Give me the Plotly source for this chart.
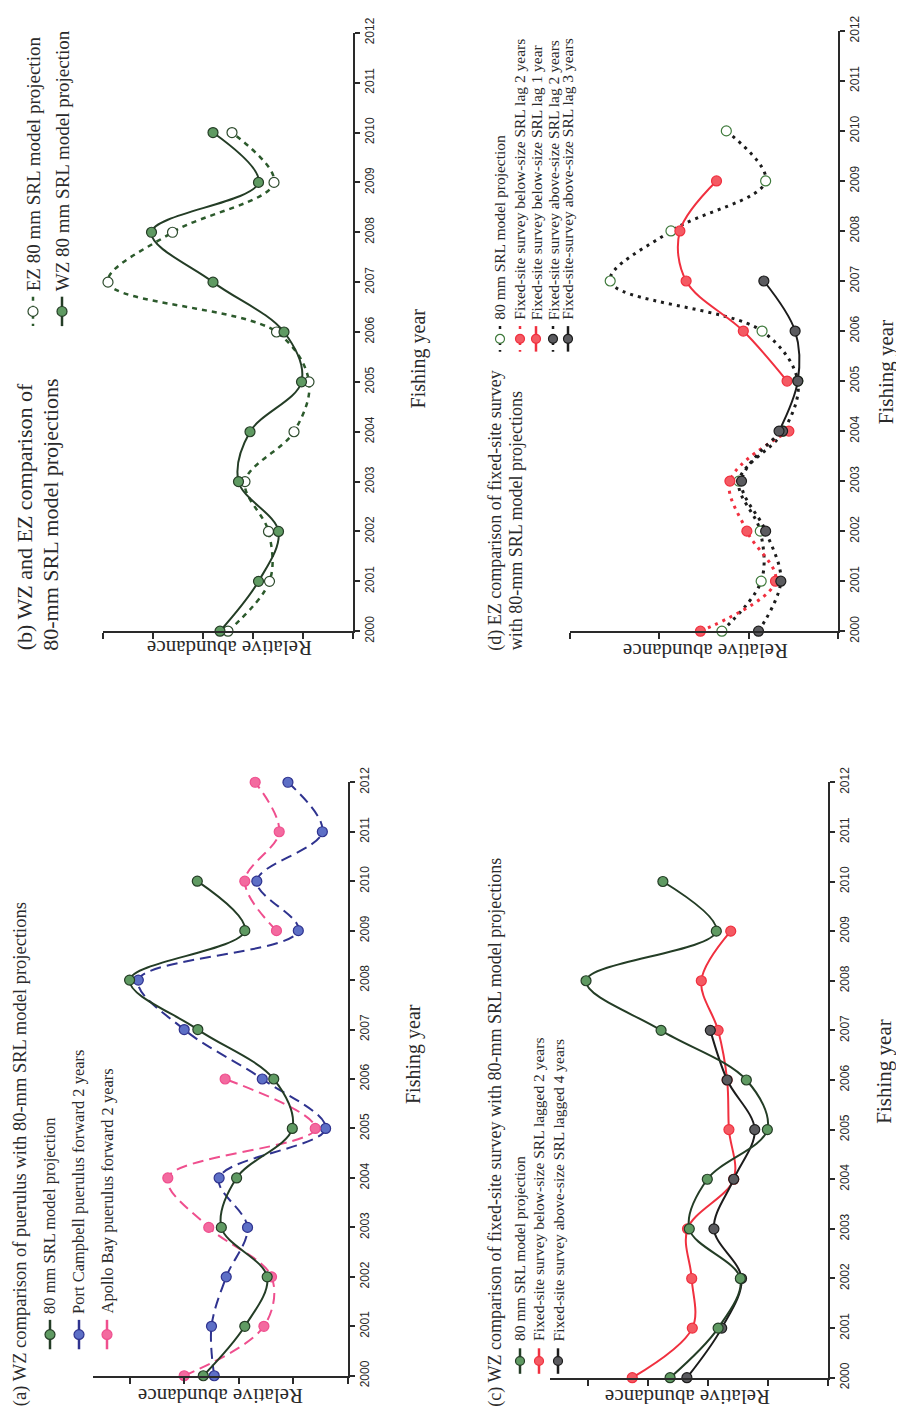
import plotly.graph_objects as go

# page is offset by the default 8px body margin; work in page pixels
PAGE_W, PAGE_H = 904, 1427
OFF = 8
FW, FH = PAGE_W - OFF, PAGE_H - OFF

years = list(range(2000, 2013))
year_labels = [str(y) for y in years]

# ---------------- data (relative abundance, axis-tick units) ----------------
# (a) WZ puerulus vs 80-mm SRL model
a_years_srl = list(range(2000, 2011))
a_srl = [2.65, 1.89, 1.48, 2.32, 2.04, 1.02, 1.36, 2.75, 4.00, 1.89, 2.76]
a_years_pc = list(range(2000, 2013))
a_port_campbell = [2.45, 2.50, 2.23, 1.84, 2.36, 0.41, 1.57, 3.00, 3.84, 0.91, 1.67, 0.47, 1.10]
a_apollo_bay = [3.00, 1.54, 1.40, 2.55, 3.30, 0.60, 2.25, None, None, 1.31, 1.89, 1.26, 1.70]

# (b) WZ and EZ 80-mm SRL projections
b_years = list(range(2000, 2011))
b_ez = [2.50, 1.67, 1.69, 2.16, 1.18, 0.88, 1.53, 4.90, 3.61, 1.58, 2.42]
b_wz = [2.66, 1.89, 1.49, 2.29, 2.06, 1.03, 1.38, 2.80, 4.03, 1.89, 2.80]

# (c) WZ fixed-site survey vs 80-mm SRL
c_years_srl = list(range(2000, 2011))
c_srl = [2.63, 1.83, 1.46, 2.31, 2.01, 1.01, 1.36, 2.78, 4.03, 1.86, 2.75]
c_years_below = list(range(2000, 2010))
c_below_lag2 = [3.26, 2.26, 2.27, 2.34, 1.57, 1.65, 1.68, 1.83, 2.11, 1.62]
c_years_above = list(range(2000, 2008))
c_above_lag4 = [2.35, 1.77, 1.44, 1.90, 1.57, 1.22, 1.68, 1.96]

# (d) EZ fixed-site survey vs 80-mm SRL
d_years_srl = list(range(2000, 2011))
d_srl = [1.30, 0.86, 0.87, 1.11, 0.61, 0.45, 0.85, 2.55, 1.87, 0.81, 1.25]
d_years_lag2 = list(range(2000, 2005))
d_below_lag2 = [1.54, 0.70, 1.02, 1.21, 0.55]
d_years_below_lag1 = list(range(2005, 2010))
d_below_lag1 = [0.57, 1.06, 1.70, 1.77, 1.36]
d_above_lag2 = [0.89, 0.64, 0.81, 1.08, 0.62]
d_years_above_lag3 = list(range(2004, 2008))
d_above_lag3 = [0.66, 0.45, 0.48, 0.83]

# ---------------- styles ----------------
GREEN_M = "#5f9a62"
GREEN_L = "#243d26"
BLUE_M = "#5d6fc6"
BLUE_L = "#2f338f"
PINK = "#ef4f8e"
PINK_M = "#f36a9f"
RED = "#f0303f"
RED_M = "#f45a63"
GREY_M = "#5b5b5f"
BLACK = "#1c1c1c"
EZ_EDGE = "#3f7a3c"

SERIF = "Liberation Serif, DejaVu Serif, serif"
NARROW = "Liberation Sans Narrow, Liberation Sans, Arial, sans-serif"
TXT = "#2a2a2a"


def px(x):
    return (x - OFF) / FW


def py(y):
    return 1 - (y - OFF) / FH

# panel geometry (page pixels): x-domain (left,right), y-domain (top,bottom)
panels = [
    dict(xd=(93, 348), yd=(782, 1387), xr=4.67, nt=4),   # a
    dict(xd=(103, 353), yd=(18, 628), xr=5.0, nt=5),     # b
    dict(xd=(550, 828), yd=(782, 1389), xr=4.63, nt=4),  # c
    dict(xd=(570, 838), yd=(16, 628), xr=3.0, nt=3),     # d
]

fig = go.Figure()
layout = dict(width=FW, height=FH, margin=dict(l=0, r=0, t=0, b=0, pad=0),
              paper_bgcolor="white", plot_bgcolor="white", showlegend=False,
              shapes=[], annotations=[])

for i, p in enumerate(panels):
    n = "" if i == 0 else str(i + 1)
    layout["xaxis" + n] = dict(
        domain=[px(p["xd"][0]), px(p["xd"][1])], range=[p["xr"], 0],
        anchor="y" + n, showline=True, linecolor="#2a2a2a", linewidth=2,
        ticks="outside", ticklen=6, tickwidth=2, tickcolor="#2a2a2a",
        tickvals=list(range(0, p["nt"] + 1)), showticklabels=False,
        showgrid=False, zeroline=False)
    layout["yaxis" + n] = dict(
        domain=[py(p["yd"][1]), py(p["yd"][0])], range=[2000, 2012],
        anchor="x" + n, side="right", showline=True, linecolor="#2a2a2a",
        linewidth=2, ticks="outside", ticklen=5, tickwidth=1.5,
        tickcolor="#2a2a2a", tickvals=years, ticktext=year_labels,
        tickangle=-90, tickfont=dict(family=NARROW, size=12, color=TXT),
        showgrid=False, zeroline=False)


def add(i, x, y, lc, mc, dash="solid", width=2, mline=None, msize=10):
    n = "" if i == 0 else str(i + 1)
    fig.add_trace(go.Scatter(
        x=x, y=y, xaxis="x" + n, yaxis="y" + n, mode="lines+markers",
        line=dict(color=lc, width=width, dash=dash, shape="spline", smoothing=1),
        marker=dict(size=msize, color=mc,
                    line=dict(color=mline or lc, width=1.2)),
        cliponaxis=False, connectgaps=False))

# (a)
add(0, a_port_campbell, a_years_pc, BLUE_L, BLUE_M, dash="11px,6px")
add(0, a_apollo_bay, a_years_pc, PINK, PINK_M, dash="11px,6px")
add(0, a_srl, a_years_srl, GREEN_L, GREEN_M)
# (b)
add(1, b_ez, b_years, "#2c5a2c", "white", dash="5px,5px", width=2.5, mline="#2c4a2c")
add(1, b_wz, b_years, GREEN_L, GREEN_M)
# (c)
add(2, c_below_lag2, c_years_below, RED, RED_M)
add(2, c_above_lag4, c_years_above, BLACK, GREY_M)
add(2, c_srl, c_years_srl, GREEN_L, GREEN_M)
# (d)
add(3, d_srl, d_years_srl, BLACK, "white", dash="3px,5px", width=3, mline=EZ_EDGE)
add(3, d_below_lag2, d_years_lag2, RED, RED_M, dash="3px,5px", width=3)
add(3, d_above_lag2, d_years_lag2, BLACK, GREY_M, dash="3px,5px", width=3)
add(3, d_below_lag1, d_years_below_lag1, RED, RED_M)
add(3, d_above_lag3, d_years_above_lag3, BLACK, GREY_M)


def text(x, y, s, size, angle=-90, xa="center", ya="bottom", family=SERIF):
    layout["annotations"].append(dict(
        x=px(x), y=py(y), xref="paper", yref="paper", text=s, showarrow=False,
        textangle=angle, xanchor=xa, yanchor=ya,
        font=dict(family=family, size=size, color=TXT)))


def legend_sym(cx, cy, lc, mc, edge, dash="solid", half=15, width=2.5, r=5):
    layout["shapes"].append(dict(
        type="line", xref="paper", yref="paper", x0=px(cx), x1=px(cx),
        y0=py(cy - half), y1=py(cy + half),
        line=dict(color=lc, width=width, dash=dash)))
    layout["shapes"].append(dict(
        type="circle", xref="paper", yref="paper",
        x0=px(cx - r), x1=px(cx + r), y0=py(cy + r), y1=py(cy - r),
        fillcolor=mc, line=dict(color=edge, width=1.2)))

# ---- panel (a) texts ----
text(20, 1420, "(a) WZ comparison of puerulus with 80-mm SRL model projections", 18.5)
for cx, lab, lc, mc in [
        (50, "80 mm SRL model projection", GREEN_L, GREEN_M),
        (79, "Port Campbell puerulus forward 2 years", BLUE_L, BLUE_M),
        (107, "Apollo Bay puerulus forward 2 years", PINK, PINK_M)]:
    legend_sym(cx, 1345, lc, mc, lc)
    text(cx, 1326, lab, 16.5)
text(221, 1407, "Relative abundance", 21, angle=180, ya="middle")
text(413, 1059, "Fishing year", 20, ya="middle")

# ---- panel (b) texts ----
text(24, 650, "(b) WZ and EZ comparison of", 22)
text(51, 650, "80-mm SRL model projections", 22)
legend_sym(33, 302, "#2c5a2c", "white", "#2c4a2c", "4px,5px")
text(33, 284, "EZ 80 mm SRL model projection", 19)
legend_sym(62, 302, GREEN_L, GREEN_M, GREEN_L)
text(62, 284, "WZ 80 mm SRL model projection", 19)
text(230, 645, "Relative abundance", 21, angle=180, ya="middle")
text(418, 350, "Fishing year", 20, ya="middle")

# ---- panel (c) texts ----
text(496, 1420, "(c) WZ comparison of fixed-site survey with 80-mm SRL model projections", 18)
for cx, lab, lc, mc in [
        (520, "80 mm SRL model projection", GREEN_L, GREEN_M),
        (539, "Fixed-site survey below-size SRL lagged 2 years", RED, RED_M),
        (558, "Fixed-site survey above-size SRL lagged 4 years", BLACK, GREY_M)]:
    legend_sym(cx, 1372, lc, mc, lc, half=13, r=4.5)
    text(cx, 1354, lab, 15.5)
text(688, 1408, "Relative abundance", 21, angle=180, ya="middle")
text(884, 1077, "Fishing year", 21, ya="middle")

# ---- panel (d) texts ----
text(496, 650, "(d) EZ comparison of fixed-site survey", 18)
text(516, 650, "with 80-mm SRL model projections", 18)
for cx, lab, lc, mc, edge, d in [
        (500, "80 mm SRL model projection", BLACK, "white", EZ_EDGE, "3px,5px"),
        (520, "Fixed-site survey below-size SRL lag 2 years", RED, RED_M, RED, "3px,5px"),
        (536, "Fixed-site survey below-size SRL lag 1 year", RED, RED_M, RED, "solid"),
        (553, "Fixed-site survey above-size SRL lag 2 years", BLACK, GREY_M, BLACK, "3px,5px"),
        (568, "Fixed-site-survey above-size SRL lag 3 years", BLACK, GREY_M, BLACK, "solid")]:
    legend_sym(cx, 330, lc, mc, edge, d, half=13, r=4.5)
    text(cx, 313, lab, 15.5)
text(706, 648, "Relative abundance", 21, angle=180, ya="middle")
text(886, 364, "Fishing year", 21, ya="middle")

fig.update_layout(**layout)
fig.write_html("out.html")
